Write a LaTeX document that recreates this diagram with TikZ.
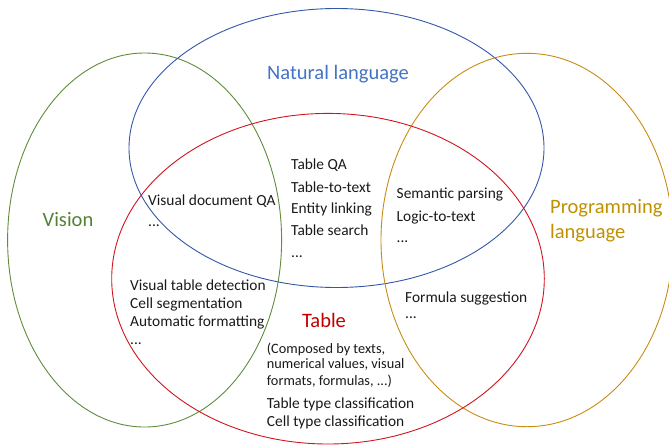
\documentclass[tikz,border=0pt]{standalone}
\usepackage{fontspec}
\setmainfont{Carlito}
\definecolor{nlblue}{RGB}{68,114,196}
\definecolor{nlline}{RGB}{52,88,168}
\definecolor{vgreen}{RGB}{84,130,53}
\definecolor{vline}{RGB}{96,140,60}
\definecolor{plgold}{RGB}{191,144,0}
\definecolor{plline}{RGB}{200,140,20}
\definecolor{tred}{RGB}{192,0,0}
\definecolor{tline}{RGB}{210,20,30}
\definecolor{txt}{RGB}{25,25,25}
\begin{document}
\begin{tikzpicture}[x=1pt,y=-1pt,
  ring/.style={line width=0.9pt},
  item/.style={anchor=base west,inner sep=0pt,text=txt,font=\fontsize{15.4}{18}\selectfont},
  small/.style={anchor=base west,inner sep=0pt,text=txt,font=\fontsize{14.3}{17}\selectfont},
  head/.style={anchor=base,inner sep=0pt,font=\fontsize{20.5}{24}\selectfont},
  headw/.style={anchor=base west,inner sep=0pt,font=\fontsize{20.5}{24}\selectfont}]
\useasboundingbox (0,0) rectangle (669,445);
% circles
\draw[ring,vline] (144.6,240) ellipse [x radius=137pt, y radius=187pt];
\draw[ring,nlline] (336.5,148) ellipse [x radius=207.5pt, y radius=139.5pt];
\draw[ring,plline] (527,240) ellipse [x radius=146pt, y radius=186.7pt];
\draw[ring,tline] (328,278.7) ellipse [x radius=216.3pt, y radius=165.3pt];
% headings
\node[head,text=nlblue] (nl) at (338,79) {Natural language};
\node[head,text=vgreen] (vis) at (68,226) {Vision};
\node[headw,text=plgold] (pl1) at (550,213) {Programming};
\node[headw,text=plgold] (pl2) at (550,238) {language};
\node[head,text=tred] (tab) at (324,327) {Table};
% center list
\node[item] (c1) at (291,169) {Table QA};
\node[item] (c2) at (291,192) {Table-to-text};
\node[item] (c3) at (291,213.5) {Entity linking};
\node[item] (c4) at (291,235) {Table search};
\node[item] (c5) at (291,257) {...};
% vision + NL + table
\node[item] (v1) at (148,205.5) {Visual document QA};
\node[item] (v2) at (148,226.5) {...};
% PL + NL
\node[item] (p1) at (396.5,198) {Semantic parsing};
\node[item] (p2) at (396.5,221) {Logic-to-text};
\node[item] (p3) at (396.5,242.5) {...};
% vision + table
\node[item] (t1) at (130,290.7) {Visual table detection};
\node[item] (t2) at (130,308.5) {Cell segmentation};
\node[item] (t3) at (130,326.7) {Automatic formatting};
\node[item] (t4) at (130,344) {...};
% PL + table
\node[item] (f1) at (405,302) {Formula suggestion};
\node[item] (f2) at (405,318) {...};
% table only
\node[small] (d1) at (266.7,353.5) {(Composed by texts,};
\node[small] (d2) at (266.7,368.5) {numerical values, visual};
\node[small] (d3) at (266.7,385) {formats, formulas, ...)};
\node[item] (d4) at (266.7,408) {Table type classification};
\node[item] (d5) at (266.7,426) {Cell type classification};
\end{tikzpicture}
\end{document}
